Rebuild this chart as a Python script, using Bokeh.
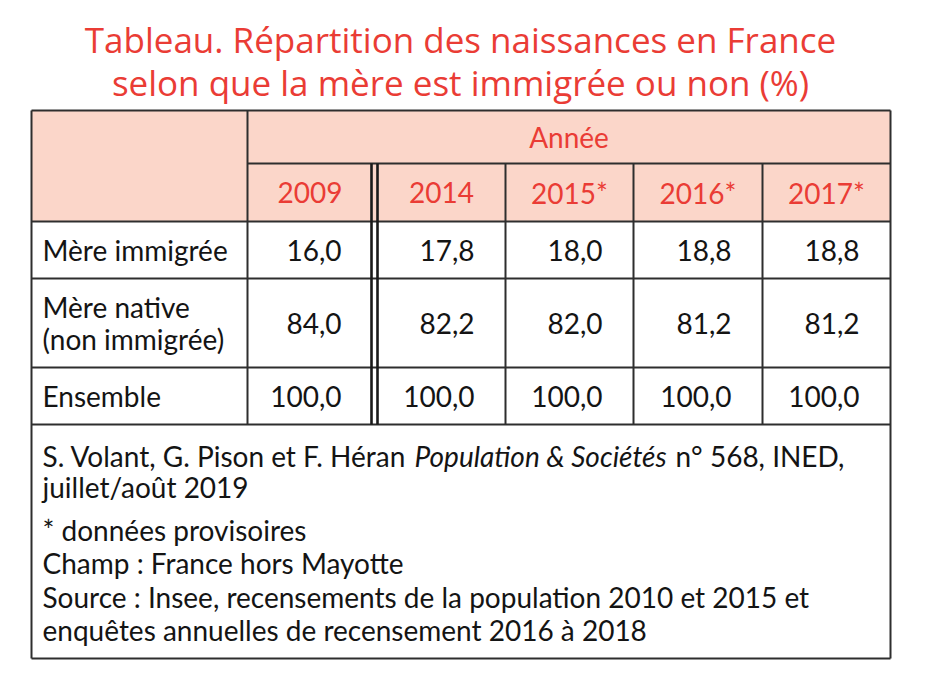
from bokeh.plotting import figure
from bokeh.models import Range1d, ColumnDataSource
from bokeh.core.properties import value
from bokeh.embed import file_html
from bokeh.resources import INLINE

# ---- data ----
title_lines = ["Tableau. Répartition des naissances en France",
               "selon que la mère est immigrée ou non (%)"]
header_label = "Année"
years = ["2009", "2014", "2015*", "2016*", "2017*"]
row_labels = [["Mère immigrée"], ["Mère native", "(non immigrée)"], ["Ensemble"]]
mere_immigree = ["16,0", "17,8", "18,0", "18,8", "18,8"]
mere_native = ["84,0", "82,2", "82,0", "81,2", "81,2"]
ensemble = ["100,0", "100,0", "100,0", "100,0", "100,0"]
series = [mere_immigree, mere_native, ensemble]
note_ref = ["S. Volant, G. Pison et F. Héran", "Population & Sociétés", "n° 568, INED,"]
notes = ["juillet/août 2019", "* données provisoires", "Champ : France hors Mayotte",
         "Source : Insee, recensements de la population 2010 et 2015 et",
         "enquêtes annuelles de recensement 2016 à 2018"]

# ---- layout (pixel geometry) ----
W, H = 914, 667
X0, X1 = 31, 890
col_edges = [247, 371, 377, 505, 633, 762, 890]
col_spans = [(247, 372), (377, 505), (505, 633), (633, 762), (762, 890)]
Y_TOP, Y_HDR, Y_HDR2, Y_R1, Y_R2, Y_R3, Y_BOT = 110, 163, 221, 278, 367, 424, 658
row_spans = [(Y_HDR2, Y_R1), (Y_R1, Y_R2), (Y_R2, Y_R3)]

RED = "#EA3C35"
FILL = "#FBD6C9"
INK = "#141414"
LINE = "#2E2E2E"
BODY_FONT = "Lato"
BODY_SIZE = "28px"

p = figure(width=W, height=H, output_backend="svg", toolbar_location=None,
           x_range=Range1d(0, W), y_range=Range1d(H, 0),
           min_border=0, outline_line_color=None)
p.axis.visible = False
p.grid.visible = False
p.background_fill_color = "white"
p.border_fill_color = "white"

# header fill
p.quad(left=[X0], right=[X1], top=[Y_TOP], bottom=[Y_HDR2], fill_color=FILL, line_color=None)

# lines
lw = 2
hsegs = [(X0, X1, Y_TOP), (col_edges[0], X1, Y_HDR), (X0, X1, Y_HDR2), (X0, X1, Y_R1),
         (X0, X1, Y_R2), (X0, X1, Y_R3), (X0, X1, Y_BOT)]
p.segment(x0=[s[0] for s in hsegs], x1=[s[1] for s in hsegs],
          y0=[s[2] for s in hsegs], y1=[s[2] for s in hsegs], line_color=LINE, line_width=lw)
vsegs = [(X0, Y_TOP, Y_BOT), (X1, Y_TOP, Y_BOT), (col_edges[0], Y_TOP, Y_R3)]
for xe in col_edges[3:-1]:
    vsegs.append((xe, Y_HDR, Y_R3))
p.segment(x0=[s[0] for s in vsegs], x1=[s[0] for s in vsegs],
          y0=[s[1] for s in vsegs], y1=[s[2] for s in vsegs], line_color=LINE, line_width=lw)
# double separator after the first year
p.segment(x0=col_edges[1:3], x1=col_edges[1:3], y0=[Y_HDR] * 2, y1=[Y_R3] * 2,
          line_color="#1A1A1A", line_width=2.6)

# title
p.text(x=[460, 460], y=[39, 82], text=title_lines, text_align="center", text_baseline="middle",
       text_color=RED, text_font=value("Open Sans"), text_font_size="35px")

def body(x, y, t, align="left", color=INK, style="normal"):
    p.text(x=x, y=y, text=t, text_align=align, text_baseline="middle", text_color=color,
           text_font=value(BODY_FONT), text_font_size=BODY_SIZE, text_font_style=style)

# header
body([(col_edges[0] + X1) / 2], [(Y_TOP + Y_HDR) / 2], [header_label], "center", RED)
body([(a + b) / 2 for a, b in col_spans], [(Y_HDR + Y_HDR2) / 2] * len(years),
     years, "center", RED)

# row labels
lx, ly, lt = [], [], []
for (a, b), lines in zip(row_spans, row_labels):
    mid = (a + b) / 2
    n = len(lines)
    for i, t in enumerate(lines):
        lx.append(42)
        ly.append(mid + (i - (n - 1) / 2) * 32)
        lt.append(t)
body(lx, ly, lt)

# values
vx, vy, vt = [], [], []
for (a, b), vals in zip(row_spans, series):
    for (c0, c1), v in zip(col_spans, vals):
        vx.append(c1 - 31)
        vy.append((a + b) / 2)
        vt.append(v)
src = ColumnDataSource(dict(x=vx, y=vy, t=vt))
p.text(x="x", y="y", text="t", source=src, text_align="right", text_baseline="middle",
       text_color=INK, text_font=value(BODY_FONT), text_font_size=BODY_SIZE)

# notes
body([42], [455.5], [note_ref[0]])
body([414], [455.5], [note_ref[1]], style="italic")
body([675], [455.5], [note_ref[2]])
body([42] * len(notes), [486.5, 529.5, 562.5, 596.5, 629.5], notes)

open("out.html", "w").write(file_html(p, INLINE))
